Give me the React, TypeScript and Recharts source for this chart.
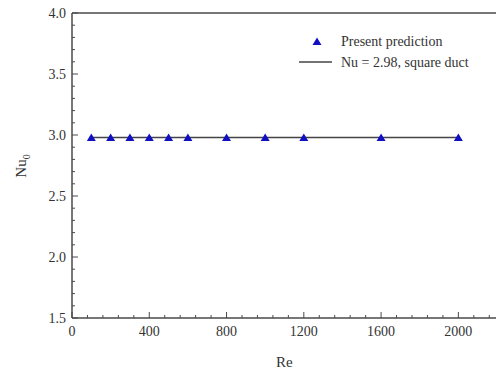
import {
  ComposedChart,
  Line,
  Scatter,
  XAxis,
  YAxis,
  ReferenceLine,
} from "recharts";

const reValues = [100, 200, 300, 400, 500, 600, 800, 1000, 1200, 1600, 2000];
const nuPredicted = [2.98, 2.98, 2.98, 2.98, 2.98, 2.98, 2.98, 2.98, 2.98, 2.98, 2.98];
const reLine = [100, 2000];
const nuLine = [2.98, 2.98];

const xTicks = [
  0, 80, 160, 240, 320, 400, 480, 560, 640, 720, 800, 880, 960, 1040, 1120,
  1200, 1280, 1360, 1440, 1520, 1600, 1680, 1760, 1840, 1920, 2000, 2080, 2160,
];
const yTicks = [
  1.5, 1.6, 1.7, 1.8, 1.9, 2.0, 2.1, 2.2, 2.3, 2.4, 2.5, 2.6, 2.7, 2.8, 2.9,
  3.0, 3.1, 3.2, 3.3, 3.4, 3.5, 3.6, 3.7, 3.8, 3.9, 4.0,
];

const predicted = reValues.map((re, i) => ({ re, nu: nuPredicted[i] }));
const squareDuct = reLine.map((re, i) => ({ re, nu: nuLine[i] }));

const FONT = '"Liberation Serif", "Times New Roman", serif';
const AXIS = "#4a4a4a";

function XTick(props: any) {
  const { x, y, payload } = props;
  const major = payload.value % 400 === 0;
  return (
    <g>
      <line x1={x} y1={y} x2={x} y2={y - (major ? 6 : 3)} stroke={AXIS} strokeWidth={1} />
      {major && (
        <text x={x} y={y + 18} textAnchor="middle" fontFamily={FONT} fontSize={14} fill="#333">
          {payload.value}
        </text>
      )}
    </g>
  );
}

function YTick(props: any) {
  const { x, y, payload } = props;
  const v = payload.value as number;
  const major = Math.abs(v * 2 - Math.round(v * 2)) < 1e-6;
  return (
    <g>
      <line x1={x} y1={y} x2={x + (major ? 6 : 3)} y2={y} stroke={AXIS} strokeWidth={1} />
      {major && (
        <text x={x - 6} y={y + 5} textAnchor="end" fontFamily={FONT} fontSize={14} fill="#333">
          {v.toFixed(1)}
        </text>
      )}
    </g>
  );
}

function Triangle(props: any) {
  const { cx, cy } = props;
  return <polygon points={`${cx - 4.5},${cy + 3.5} ${cx + 4.5},${cy + 3.5} ${cx},${cy - 4}`} fill="#1010c0" />;
}

export default function App() {
  return (
    <div style={{ position: "absolute", left: 0, top: 0, width: 496, height: 372, background: "#fff", overflow: "hidden" }}>
      <ComposedChart
        width={500}
        height={372}
        margin={{ top: 13, right: 3, bottom: 53, left: 71 }}
      >
        <XAxis
          type="number"
          dataKey="re"
          domain={[0, 2200]}
          ticks={xTicks}
          interval={0}
          height={1}
          tickSize={0}
          tickMargin={0}
          tickLine={false}
          axisLine={{ stroke: AXIS, strokeWidth: 1.5 }}
          tick={<XTick />}
          allowDataOverflow
        />
        <YAxis
          type="number"
          dataKey="nu"
          domain={[1.5, 4.0]}
          ticks={yTicks}
          interval={0}
          width={1}
          tickSize={0}
          tickMargin={0}
          tickLine={false}
          axisLine={{ stroke: AXIS, strokeWidth: 1.5 }}
          tick={<YTick />}
          allowDataOverflow
        />
        <ReferenceLine y={4.0} stroke={AXIS} strokeWidth={1.5} ifOverflow="visible" />
        <Line
          data={squareDuct}
          dataKey="nu"
          type="linear"
          stroke="#444"
          strokeWidth={1.5}
          dot={false}
          isAnimationActive={false}
        />
        <Scatter
          data={predicted}
          dataKey="nu"
          shape={<Triangle />}
          isAnimationActive={false}
        />
      </ComposedChart>
      <svg width={190} height={40} style={{ position: "absolute", left: 295, top: 33, overflow: "visible" }}>
        <polygon points="17.5,12 26.5,12 22,4.5" fill="#1010c0" />
        <text x={46} y={13} fontFamily={FONT} fontSize={14} fill="#333">
          Present prediction
        </text>
        <line x1={4} y1={29} x2={37} y2={29} stroke="#444" strokeWidth={1.5} />
        <text x={46} y={34} fontFamily={FONT} fontSize={14} fill="#333">
          Nu = 2.98, square duct
        </text>
      </svg>
      <div
        style={{
          position: "absolute",
          left: 276,
          top: 354,
          fontFamily: FONT,
          fontSize: 15,
          color: "#333",
        }}
      >
        Re
      </div>
      <div
        style={{
          position: "absolute",
          left: 22,
          top: 166,
          transform: "translate(-50%, -50%) rotate(-90deg)",
          fontFamily: FONT,
          fontSize: 15,
          color: "#333",
          whiteSpace: "nowrap",
        }}
      >
        Nu<sub style={{ fontSize: 10 }}>0</sub>
      </div>
    </div>
  );
}
